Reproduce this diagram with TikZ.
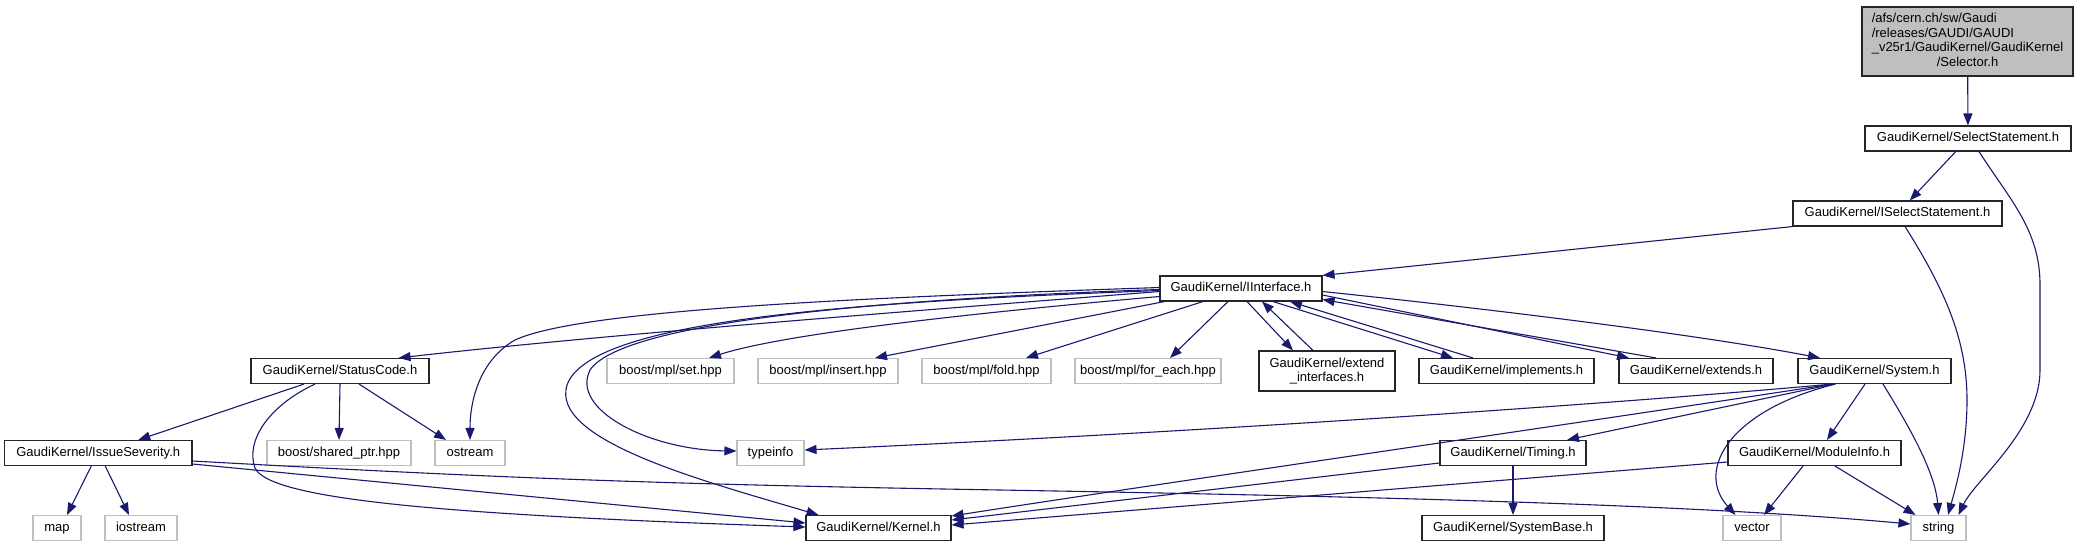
\documentclass[tikz,border=0pt]{standalone}
\usepackage{fontspec}
\setmainfont{Liberation Sans}
\usetikzlibrary{arrows.meta}
\definecolor{dblue}{RGB}{25,25,112}
\definecolor{sysgray}{RGB}{191,191,191}
\definecolor{selgray}{RGB}{191,191,191}
\newcommand\nodefont{\fontsize{13}{14.5}\selectfont}
\tikzset{
  box/.style={rectangle, inner sep=0pt, line width=1.1pt, font=\nodefont, minimum height=25pt},
  loc/.style={box, draw=black!85, text height=9pt, text depth=3pt},
  sys/.style={box, draw=sysgray, text height=9pt, text depth=3pt},
  mloc/.style={box, draw=black!85},
  edg/.style={draw=dblue, line width=1.1pt, -{Triangle[length=12pt,width=9pt]}},
}
\begin{document}
\begin{tikzpicture}[x=1pt,y=-1pt]
\useasboundingbox[fill=white] (0,0) rectangle (2079,547);
% row 1-4
\node[mloc, fill=selgray, minimum width=211pt, minimum height=69pt] (sel) at (1967.5,41.5)
  {\begin{tabular}{@{}l@{}}/afs/cern.ch/sw/Gaudi\\/releases/GAUDI/GAUDI\\\_v25r1/GaudiKernel/GaudiKernel\\\multicolumn{1}{@{}c@{}}{/Selector.h}\end{tabular}};
\node[loc, minimum width=206pt] (ss) at (1968,138.5) {GaudiKernel/SelectStatement.h};
\node[loc, minimum width=209pt] (iss) at (1897.5,213.5) {GaudiKernel/ISelectStatement.h};
\node[loc, minimum width=162pt] (ii) at (1241,288.5) {GaudiKernel/IInterface.h};
% row 5
\node[loc, minimum width=178pt] (sc) at (340,371) {GaudiKernel/StatusCode.h};
\node[sys, minimum width=127pt] (set) at (670.5,371) {boost/mpl/set.hpp};
\node[sys, minimum width=140pt] (ins) at (828,371) {boost/mpl/insert.hpp};
\node[sys, minimum width=129pt] (fold) at (986.5,371) {boost/mpl/fold.hpp};
\node[sys, minimum width=146pt] (fe) at (1148,371) {boost/mpl/for\_each.hpp};
\node[mloc, minimum width=136pt, minimum height=40pt, align=center] (ext) at (1327,371) {GaudiKernel/extend\\\_interfaces.h};
\node[loc, minimum width=175pt] (impl) at (1506.5,371) {GaudiKernel/implements.h};
\node[loc, minimum width=154pt] (exts) at (1696,371) {GaudiKernel/extends.h};
\node[loc, minimum width=153pt] (sysh) at (1874.5,371) {GaudiKernel/System.h};
% row 6
\node[loc, minimum width=187.5pt] (sev) at (98.25,453) {GaudiKernel/IssueSeverity.h};
\node[sys, minimum width=144pt] (shp) at (339,453) {boost/shared\_ptr.hpp};
\node[sys, minimum width=70pt] (ost) at (470,453) {ostream};
\node[sys, minimum width=67pt] (tinfo) at (770.5,453) {typeinfo};
\node[loc, minimum width=146pt] (tim) at (1513,453) {GaudiKernel/Timing.h};
\node[loc, minimum width=173pt] (mod) at (1814.5,453) {GaudiKernel/ModuleInfo.h};
% row 7
\node[sys, minimum width=48pt] (map) at (57,528) {map};
\node[sys, minimum width=72pt] (ios) at (141,528) {iostream};
\node[loc, minimum width=145pt] (ker) at (878.5,528) {GaudiKernel/Kernel.h};
\node[loc, minimum width=182pt] (sbase) at (1513,528) {GaudiKernel/SystemBase.h};
\node[sys, minimum width=58pt] (vec) at (1752,528) {vector};
\node[sys, minimum width=55pt] (str) at (1938.5,528) {string};

% edges top
\draw[edg] (sel) -- (ss);
\draw[edg] (ss) -- (iss);
\draw[edg] ([xshift=11pt]ss.south) .. controls (2010,200) and (2040,230) .. (2040,285) -- (2040,370) .. controls (2040,430) and (1975,480) .. ([xshift=20pt]str.north);
\draw[edg] (iss.south west) -- (ii.north east);
\draw[edg] ([xshift=7.5pt]iss.south) .. controls (1945,290) and (1967,340) .. (1967,400) .. controls (1967,450) and (1955,490) .. ([xshift=9.5pt]str.north);

% IInterface left
\draw[edg] ([yshift=-3pt]ii.west) .. controls (900,312) and (600,335) .. ([xshift=-31pt]sc.north east);
\draw[edg] ([yshift=1pt]ii.west) .. controls (850,298) and (580,310) .. (515,340) .. controls (480,360) and (470,400) .. (ost.north);
\draw[edg] ([yshift=-1pt]ii.west) .. controls (850,300) and (620,325) .. (590,370) .. controls (570,410) and (650,450) .. ([yshift=2pt]tinfo.west);
\draw[edg] ([yshift=-2pt]ii.west) .. controls (850,302) and (590,320) .. (567,385) .. controls (550,440) and (700,480) .. ([xshift=-60pt]ker.north);
\draw[edg] ([yshift=-8pt]ii.west) .. controls (950,315) and (780,335) .. ([xshift=38.5pt]set.north);
\draw[edg] ([xshift=5pt]ii.south west) -- ([xshift=47pt]ins.north);
\draw[edg] ([xshift=-38pt]ii.south) -- ([xshift=39.5pt]fold.north);
\draw[edg] ([xshift=-13pt]ii.south) -- ([xshift=22pt]fe.north);
% IInterface right
\draw[edg] ([xshift=6pt]ii.south) -- ([xshift=-34pt]ext.north);
\draw[edg] ([xshift=-14pt]ext.north) -- ([xshift=21pt]ii.south);
\draw[edg] ([xshift=32pt]ii.south) -- ([xshift=-53.5pt]impl.north);
\draw[edg] ([xshift=-33.5pt]impl.north) -- ([xshift=49pt]ii.south);
\draw[edg] ([yshift=-6.5pt]ii.east) -- ([xshift=-67pt]exts.north);
\draw[edg] ([xshift=-40pt]exts.north) -- ([yshift=-11pt]ii.east);
\draw[edg] ([yshift=-3pt]ii.east) .. controls (1500,310) and (1700,335) .. ([xshift=-54.5pt]sysh.north);

% StatusCode
\draw[edg] ([xshift=-36pt]sc.south) -- ([xshift=40pt]sev.north);
\draw[edg] (sc.south) -- (shp.north);
\draw[edg] ([xshift=19pt]sc.south) -- ([xshift=-24pt]ost.north);
\draw[edg] ([xshift=-25pt]sc.south) .. controls (270,405) and (245,440) .. (255,468) .. controls (270,500) and (450,515) .. ([yshift=1pt]ker.west);

% IssueSeverity
\draw[edg] ([xshift=-7pt]sev.south) -- ([xshift=10pt]map.north);
\draw[edg] ([xshift=7pt]sev.south) -- ([xshift=-12pt]ios.north);
\draw[edg] ([yshift=-11pt]sev.east) -- ([yshift=5pt]ker.west);
\draw[edg] ([yshift=-8pt]sev.east) .. controls (500,478) and (650,484) .. (1000,490) .. controls (1400,497) and (1700,505) .. ([yshift=4pt]str.west);

% System
\draw[edg] ([xshift=-42pt]sysh.south) .. controls (1600,405) and (1200,432) .. ([yshift=3pt]tinfo.east);
\draw[edg] ([xshift=-42pt]sysh.south) .. controls (1600,420) and (1150,485) .. ([yshift=12pt]ker.east);
\draw[edg] ([xshift=-41pt]sysh.south) -- ([xshift=54pt]tim.north);
\draw[edg] ([xshift=-9.5pt]sysh.south) -- ([xshift=12.5pt]mod.north);
\draw[edg] ([xshift=-39pt]sysh.south) .. controls (1730,410) and (1695,470) .. ([xshift=-16.5pt]vec.north);
\draw[edg] ([xshift=8.5pt]sysh.south) .. controls (1905,420) and (1935,470) .. (str.north);

% Timing
\draw[edg] ([yshift=-10pt]tim.west) -- ([yshift=8pt]ker.east);
\draw[edg] (tim) -- (sbase);

% ModuleInfo
\draw[edg] ([yshift=-9pt]mod.west) -- ([yshift=3pt]ker.east);
\draw[edg] ([xshift=-11.5pt]mod.south) -- ([xshift=12pt]vec.north);
\draw[edg] ([xshift=20.5pt]mod.south) -- ([xshift=-23pt]str.north);
\end{tikzpicture}
\end{document}
